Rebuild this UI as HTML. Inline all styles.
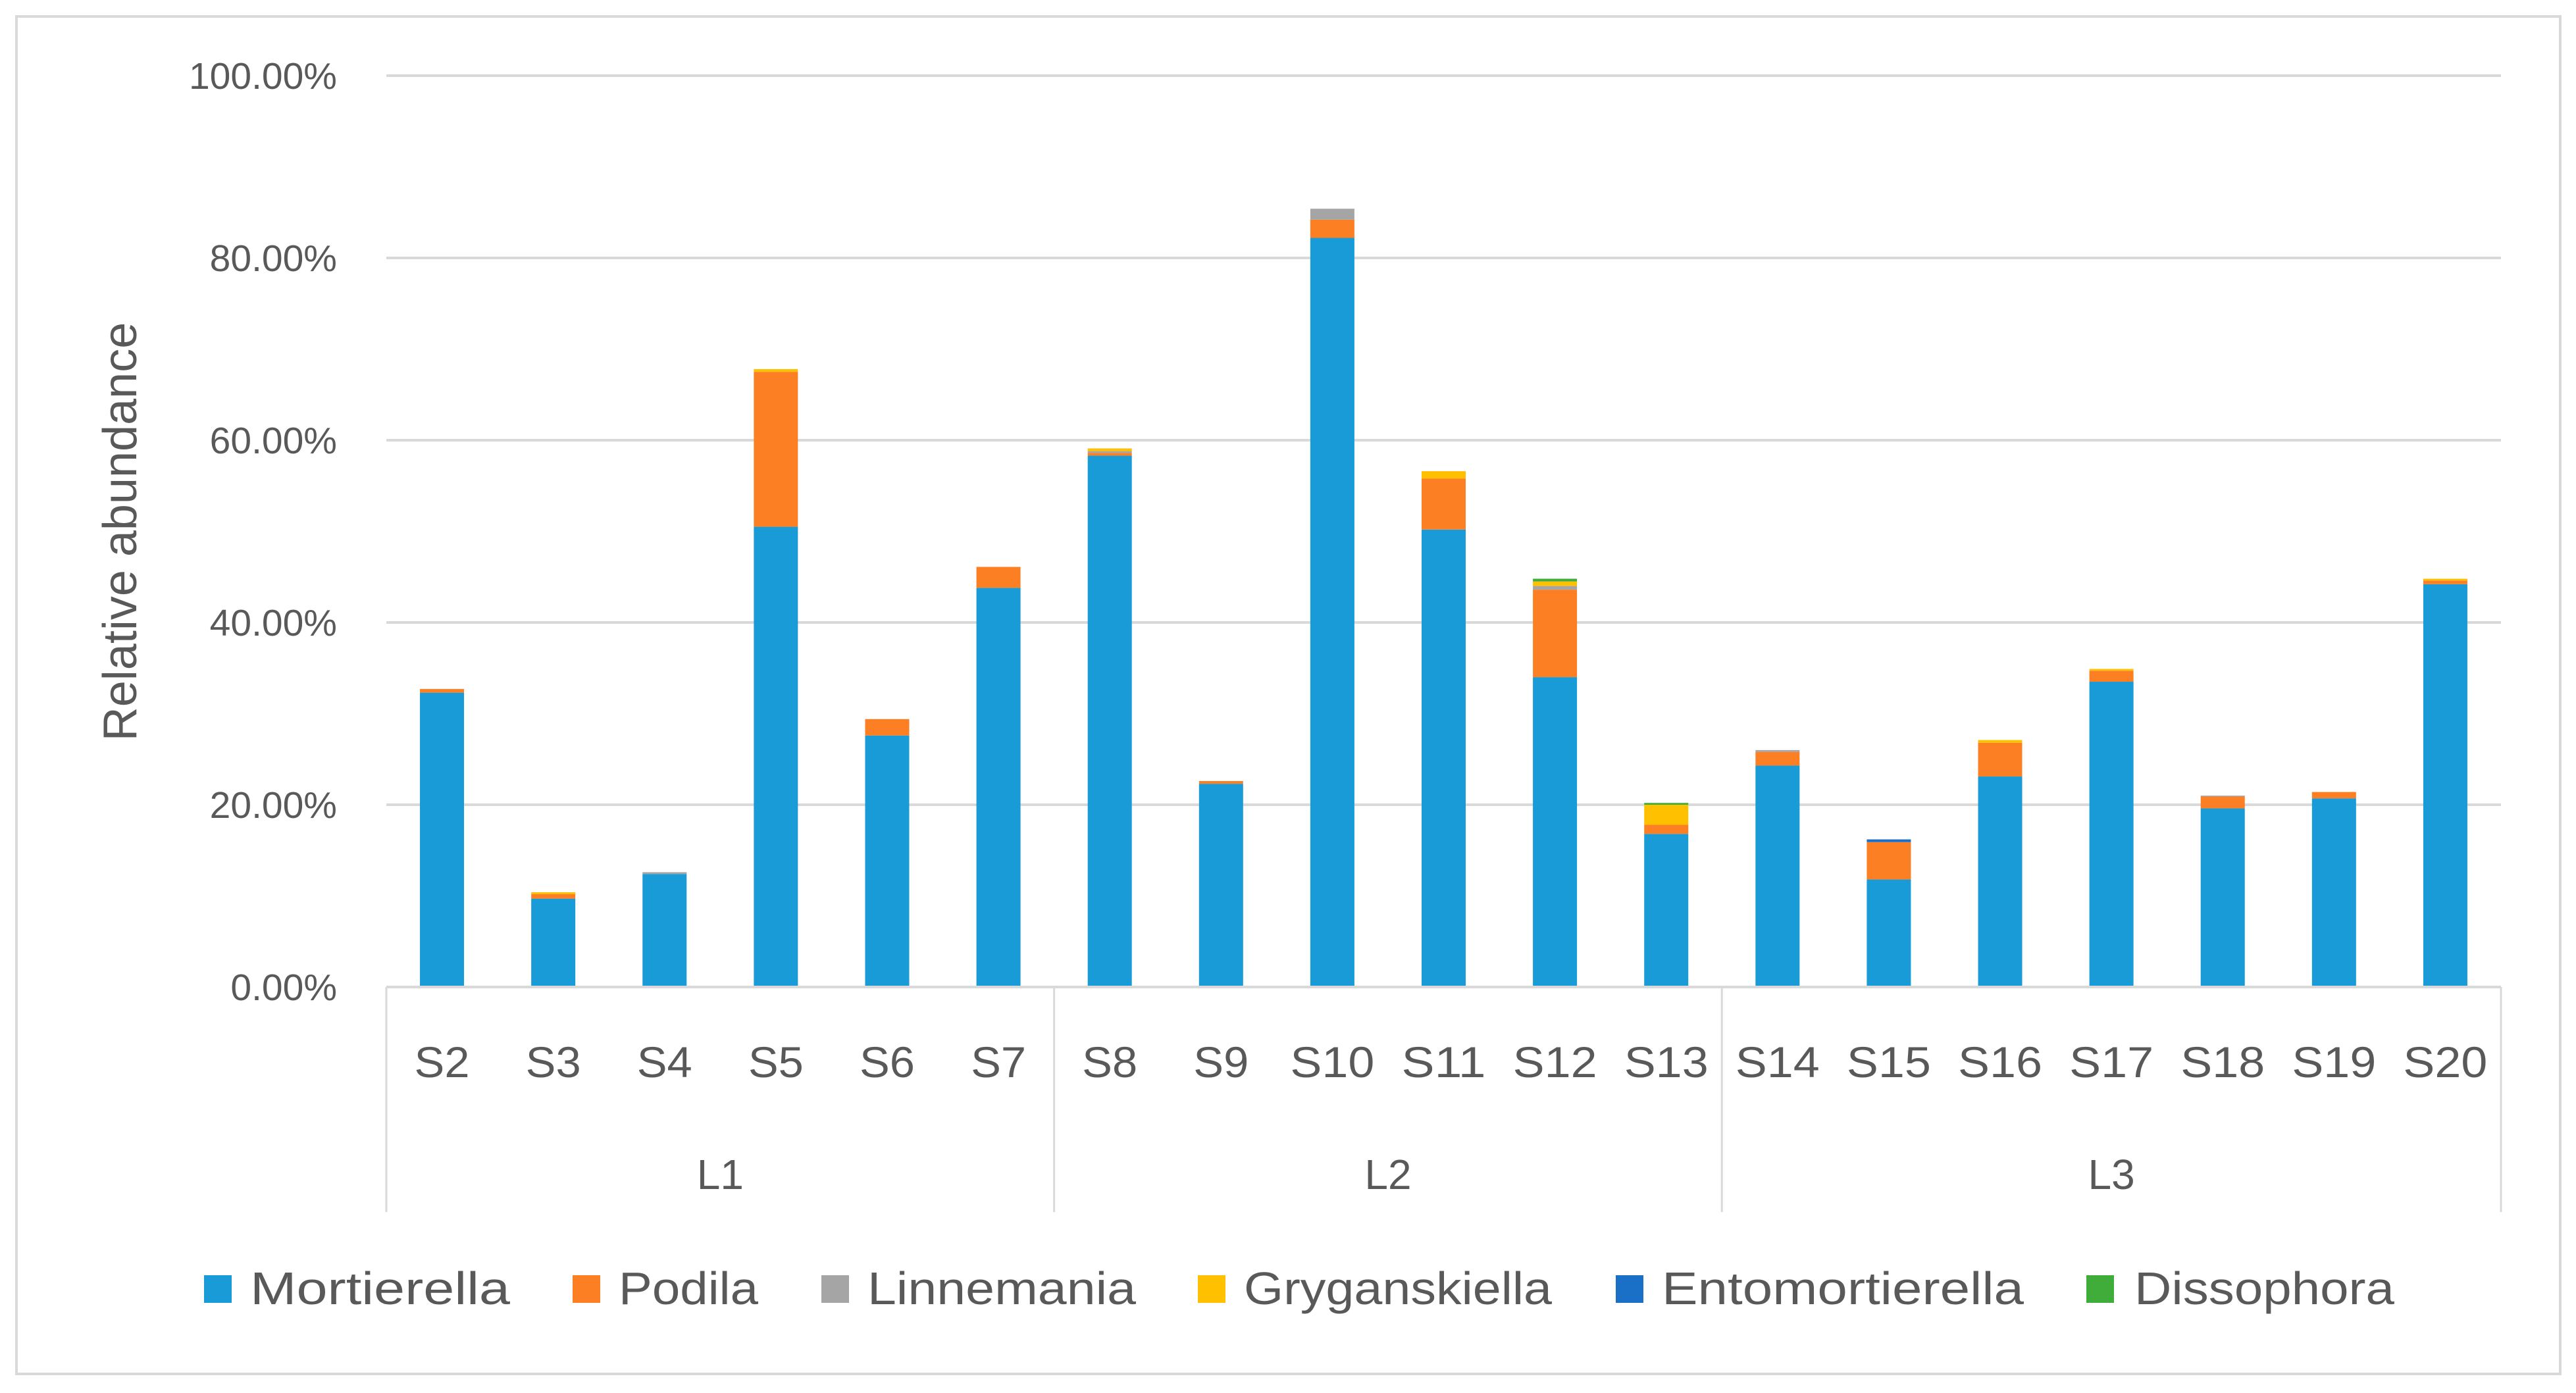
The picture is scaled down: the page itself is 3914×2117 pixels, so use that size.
<!DOCTYPE html>
<html><head><meta charset="utf-8"><style>
html,body{margin:0;padding:0;background:#fff;}
svg{display:block;font-family:"Liberation Sans",sans-serif;}
</style></head><body>
<svg id="chart" width="3914" height="2117" viewBox="0 0 3914 2117" xmlns="http://www.w3.org/2000/svg">
<rect x="25" y="25" width="3865" height="2063" fill="#fff" stroke="#d9d9d9" stroke-width="4"/>
<g id="grid"></g>
<g id="bars"></g>
<g id="axis"></g>
<g id="yaxis"></g>
<text transform="translate(207,808) rotate(-90)" text-anchor="middle" font-size="72" fill="#595959">Relative abundance</text>
<g id="legend"></g>
</svg>
<script>
const categories = ["S2","S3","S4","S5","S6","S7","S8","S9","S10","S11","S12","S13","S14","S15","S16","S17","S18","S19","S20"];
const groups = ["L1","L2","L3"];
const groupSizes = [6,6,7];
const seriesNames = ["Mortierella","Podila","Linnemania","Gryganskiella","Entomortierella","Dissophora"];
const mortierella =     [32.3,9.7,12.4,50.5,27.6,43.8,58.3,22.3,82.2,50.2,34.0,16.8,24.3,11.8,23.1,33.5,19.6,20.7,44.2];
const podila =          [0.4,0.5,0.0,17.0,1.8,2.3,0.3,0.3,2.0,5.6,9.6,1.0,1.5,4.1,3.7,1.2,1.3,0.7,0.4];
const linnemania =      [0.0,0.0,0.2,0.0,0.0,0.0,0.2,0.0,1.2,0.0,0.4,0.0,0.2,0.0,0.0,0.0,0.1,0.0,0.0];
const gryganskiella =   [0.0,0.2,0.0,0.3,0.0,0.0,0.3,0.0,0.0,0.8,0.5,2.2,0.0,0.0,0.3,0.2,0.0,0.0,0.2];
const entomortierella = [0.0,0.0,0.0,0.0,0.0,0.0,0.0,0.0,0.0,0.0,0.0,0.0,0.0,0.3,0.0,0.0,0.0,0.0,0.0];
const dissophora =      [0.0,0.0,0.0,0.0,0.0,0.0,0.0,0.0,0.0,0.0,0.3,0.2,0.0,0.0,0.0,0.0,0.0,0.0,0.0];
const yTicks = [0,20,40,60,80,100];
const yTickLabels = ["0.00%","20.00%","40.00%","60.00%","80.00%","100.00%"];

const series = [mortierella,podila,linnemania,gryganskiella,entomortierella,dissophora];
const colors = ["#189bd7","#fd7f23","#a5a5a5","#ffc000","#1a6fc7","#40ad3b"];
const NS = "http://www.w3.org/2000/svg";
const X0 = 587, X1 = 3800, Y0 = 1500, Y100 = 115;
const bandW = (X1 - X0) / categories.length;
const barW = 67;
function y(v){ return Y0 - (Y0 - Y100) * v / 100; }
function xc(i){ return X0 + bandW * (i + 0.5); }
function mk(tag, attrs, parent){ const e = document.createElementNS(NS, tag); for (const k in attrs) e.setAttribute(k, attrs[k]); parent.appendChild(e); return e; }

const grid = document.getElementById('grid');
const yaxis = document.getElementById('yaxis');
yTicks.forEach((t, i) => {
  if (t > 0) {
    const l = mk('line', {x1:X0, x2:X1, y1:y(t), y2:y(t), stroke:'#d9d9d9', 'stroke-width':4}, grid);
    
    
  }
  const tx = mk('text', {x:512, y:y(t)+20, 'text-anchor':'end', 'font-size':57, fill:'#595959'}, yaxis);
  tx.textContent = yTickLabels[i];
  
  
});

const bars = document.getElementById('bars');
categories.forEach((c, i) => {
  let acc = 0;
  series.forEach((s, k) => {
    const v = s[i];
    if (v <= 0) return;
    const r = mk('rect', {x:xc(i)-barW/2, y:y(acc+v), width:barW, height:y(acc)-y(acc+v), fill:colors[k]}, bars);
    
    
    acc += v;
  });
});

const axis = document.getElementById('axis');
const base = mk('line', {x1:X0, x2:X1, y1:Y0, y2:Y0, stroke:'#d9d9d9', 'stroke-width':4}, axis);


categories.forEach((c, i) => {
  const t = mk('text', {x:xc(i), y:1637, 'text-anchor':'middle', 'font-size':66, fill:'#595959', textLength: c.length > 2 ? 128 : 84, lengthAdjust:'spacingAndGlyphs'}, axis);
  t.textContent = c;
  
  
});
let start = 0;
const bounds = [0];
groups.forEach((g, gi) => {
  const end = start + groupSizes[gi];
  bounds.push(end);
  const t = mk('text', {x:X0 + bandW*(start+end)/2, y:1807, 'text-anchor':'middle', 'font-size':64, fill:'#595959'}, axis);
  t.textContent = g;
  
  
  start = end;
});
bounds.forEach(b => {
  const l = mk('line', {x1:X0+bandW*b, x2:X0+bandW*b, y1:Y0, y2:1842, stroke:'#d9d9d9', 'stroke-width':3}, axis);
  
  
});

const legend = document.getElementById('legend');
const legX = [310, 870, 1248, 1820, 2455, 3170];
const legTX = [380, 940, 1318, 1890, 2525, 3243];
const legW = [395, 212, 408, 468, 550, 395];
seriesNames.forEach((n, k) => {
  const g = mk('g', {}, legend);
  
  
  mk('rect', {x:legX[k], y:1938, width:42, height:42, fill:colors[k]}, g);
  const t = mk('text', {x:legTX[k], y:1982, 'font-size':70, fill:'#595959', textLength:legW[k], lengthAdjust:'spacingAndGlyphs'}, g);
  t.textContent = n;
});
</script>
</body></html>
